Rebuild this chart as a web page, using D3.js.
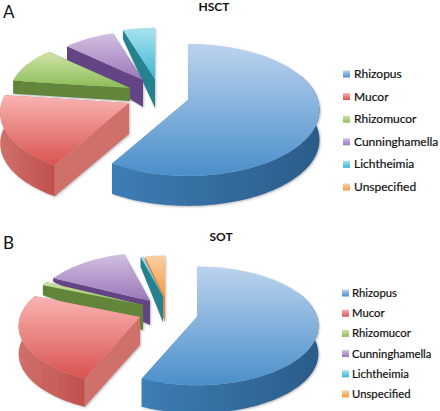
<!DOCTYPE html>
<html>
<head>
<meta charset="utf-8">
<script src="https://d3js.org/d3.v7.min.js"></script>
<style>
body { margin: 0; background: #fff; }
text { font-family: Lato, "Open Sans", sans-serif; fill: #111; }
</style>
</head>
<body>
<svg id="chart" width="440" height="411"></svg>
<script>
var categories = ["Rhizopus", "Mucor", "Rhizomucor", "Cunninghamella", "Lichtheimia", "Unspecified"];
var hsctValues = [58.5, 18.5, 9.6, 8.4, 5, 0];
var sotValues = [56.5, 24.7, 1, 13.6, 0.5, 3.7];

// top face light/dark, wall light/dark
var topLight = ["#bcd3ee", "#f9b4b2", "#cfe3a8", "#d2bfe0", "#a8e2ee", "#fbcfa4"];
var topDark = ["#4a8fcb", "#d9534f", "#8dbd58", "#9a78ba", "#3db6d3", "#f59c45"];
var wallLight = ["#3d7db5", "#d0706b", "#62853a", "#644585", "#25818f", "#dc8a3c"];
var wallDark = ["#2b5c8a", "#c0504c", "#55752f", "#553a70", "#1d6f7e", "#c99a70"];

var panels = [
    { label: "A", title: "HSCT", values: hsctValues, cx: 188, cy: 100, rx: 130, ry: 64.5,
      labelY: 18, titleX: 214, titleY: 11, legendTop: 74, legendBottom: 187, legendX: 343, textX: 354, fontSize: 12,
      shift: [[0, 0], [-59, 3], [-58, -12], [-45, -20], [-33, -21], [-33, -21]],
      radius: [1, 0.98, 0.92, 0.85, 0.9, 0.7],
      depthNear: [30, 31, 13, 27, 29, 0],
      depthFar: [30, 31, 13, 6, 6, 0] },
    { label: "B", title: "SOT", values: sotValues, cx: 197, cy: 317, rx: 120, ry: 58,
      labelY: 249, titleX: 221, titleY: 241, legendTop: 293, legendBottom: 394, legendX: 342, textX: 352, fontSize: 11.3,
      shift: [[0, 0], [-57, 0], [-54, -12], [-47, -16], [-34, -20], [-32, -20]],
      radius: [1, 1, 0.95, 0.95, 0.8, 0.8],
      depthNear: [28, 28, 25, 24, 25, 25],
      depthFar: [28, 28, -17, -26, 4, 4] }
];

var svg = d3.select("#chart");
var defs = svg.append("defs");

var soft = defs.append("filter").attr("id", "soft")
    .attr("x", "-5%").attr("y", "-5%").attr("width", "110%").attr("height", "110%");
soft.append("feDropShadow")
    .attr("dx", 1).attr("dy", 1).attr("stdDeviation", 1)
    .attr("flood-color", "#555").attr("flood-opacity", 0.4);
soft.append("feGaussianBlur").attr("stdDeviation", 0.4);

categories.forEach(function(c, i) {
    var g1 = defs.append("linearGradient").attr("id", "top" + i)
        .attr("x1", 0).attr("y1", 0).attr("x2", 0).attr("y2", 1);
    g1.append("stop").attr("offset", "0%").attr("stop-color", topLight[i]);
    g1.append("stop").attr("offset", "100%").attr("stop-color", topDark[i]);
    var g2 = defs.append("linearGradient").attr("id", "wall" + i)
        .attr("x1", 0).attr("y1", 0).attr("x2", 1).attr("y2", 0);
    g2.append("stop").attr("offset", "0%").attr("stop-color", wallLight[i]);
    g2.append("stop").attr("offset", "100%").attr("stop-color", wallDark[i]);
});

var pie = d3.pie().sort(null).value(function(d) { return d; });
var line = d3.line();

// tilted ground plane with a little perspective, nearer edge looks bigger
var persp = 0.15;
function project(p, angle, r) {
    var u = Math.sin(angle) * r;
    var v = -Math.cos(angle) * r;
    var s = 1 / (1 - persp * v);
    return [p.cx + p.rx * u * s, p.cy + p.ry * v * s];
}

function arcPoints(p, a0, a1, r) {
    var n = Math.max(2, Math.ceil((a1 - a0) / 0.03));
    return d3.range(n + 1).map(function(k) {
        return project(p, a0 + (a1 - a0) * k / n, r);
    });
}

panels.forEach(function(p) {
    var arcs = pie(p.values);
    var layer = svg.append("g").attr("filter", "url(#soft)");

    // wall height shrinks towards the back of the slice
    function down(pts, i) {
        return pts.map(function(q) {
            var back = Math.max(0, (p.cy - q[1]) / 56);
            var h = p.depthNear[i] + (p.depthFar[i] - p.depthNear[i]) * back;
            return [q[0], q[1] + Math.max(3, h)];
        }).reverse();
    }

    // back slices first, the big one last
    d3.range(arcs.length - 1, -1, -1).forEach(function(i) {
        var a = arcs[i];
        if (a.value === 0) return;
        var g = layer.append("g")
            .attr("transform", "translate(" + p.shift[i][0] + "," + p.shift[i][1] + ")");
        var apex = [p.cx, p.cy];
        var outer = arcPoints(p, a.startAngle, a.endAngle, p.radius[i]);
        var first = outer[0];
        var last = outer[outer.length - 1];

        [[apex, last], [apex, first]].forEach(function(edge) {
            g.append("path")
                .attr("d", line(edge.concat(down(edge, i))) + "Z")
                .attr("fill", wallLight[i]);
        });

        // outer wall, only the part turned towards us
        var front = outer.filter(function(q) { return q[1] > p.cy - 25; });
        if (front.length > 1) {
            g.append("path")
                .attr("d", line(front.concat(down(front, i))) + "Z")
                .attr("fill", "url(#wall" + i + ")");
        }

        g.append("path")
            .attr("d", line([apex].concat(outer)) + "Z")
            .attr("fill", "url(#top" + i + ")");
    });

    svg.append("text")
        .attr("x", 3).attr("y", p.labelY)
        .style("font-size", "17px")
        .text(p.label);

    svg.append("text")
        .attr("x", p.titleX).attr("y", p.titleY)
        .attr("text-anchor", "middle")
        .style("font-size", "12px").style("font-weight", "700")
        .text(p.title);

    var legendY = d3.scalePoint().domain(categories).range([p.legendTop, p.legendBottom]);
    var legend = svg.append("g").selectAll("g").data(categories).enter().append("g")
        .attr("transform", function(d) { return "translate(" + p.legendX + "," + legendY(d) + ")"; });
    legend.append("rect")
        .attr("x", 0).attr("y", -3.5).attr("width", 7).attr("height", 7)
        .attr("fill", function(d, i) { return "url(#top" + i + ")"; });
    legend.append("text")
        .attr("x", p.textX - p.legendX).attr("y", 4)
        .style("font-size", p.fontSize + "px")
        .style("stroke", "#111").style("stroke-width", 0.2)
        .text(function(d) { return d; });
});
</script>
</body>
</html>
